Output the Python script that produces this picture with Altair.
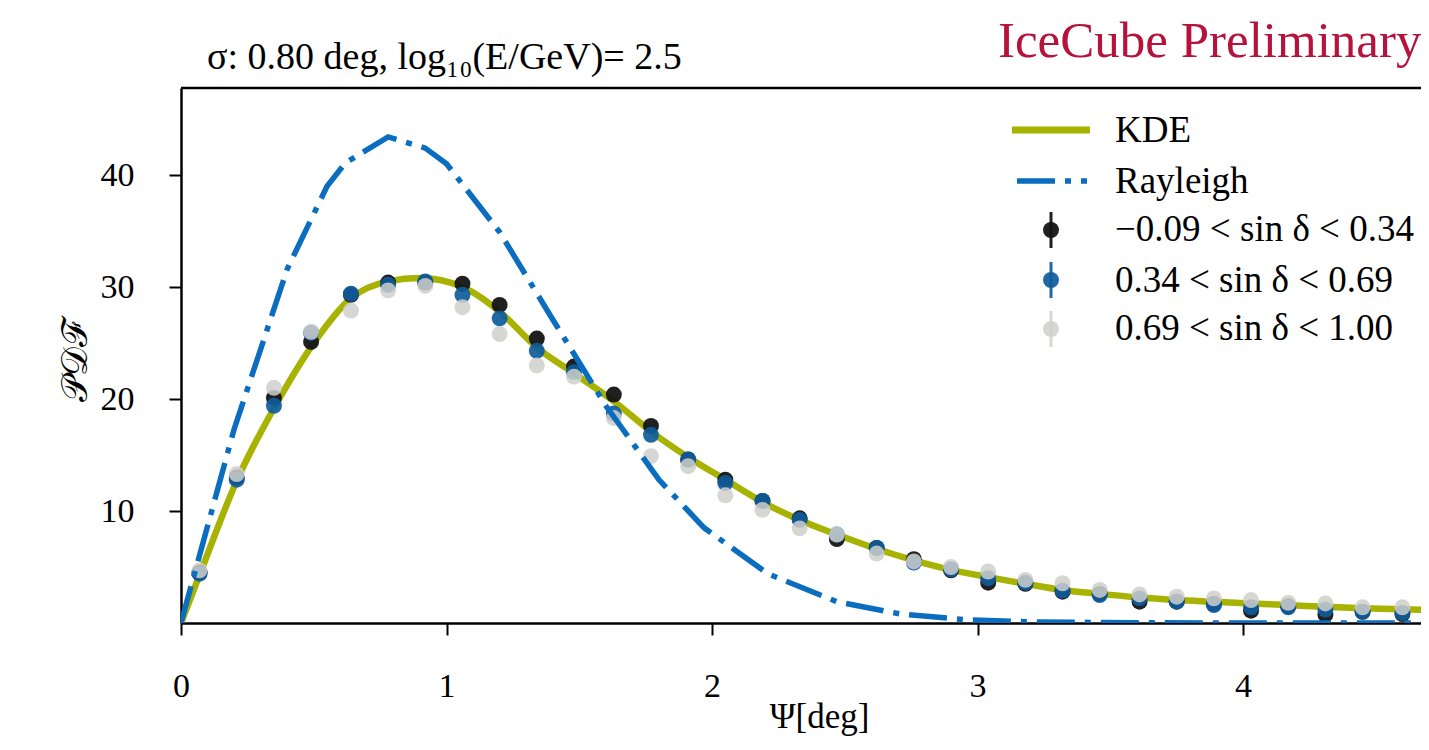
import altair as alt
import pandas as pd

# ---------------- data ----------------
bin_centers = [0.07, 0.21, 0.35, 0.49, 0.64, 0.78, 0.92, 1.06, 1.20, 1.34, 1.48,
               1.63, 1.77, 1.91, 2.05, 2.19, 2.33, 2.47, 2.62, 2.76, 2.90, 3.04,
               3.18, 3.32, 3.46, 3.61, 3.75, 3.89, 4.03, 4.17, 4.31, 4.45, 4.60]

pdf_low = [4.5, 13.0, 20.1, 25.1, 29.3, 30.4, 30.4, 30.3, 28.4, 25.4, 22.9,
           20.4, 17.6, 14.6, 12.8, 10.9, 9.35, 7.5, 6.7, 5.7, 4.7, 3.6,
           3.5, 2.8, 2.6, 1.9, 1.9, 1.7, 1.1, 1.5, 0.75, 1.0, 0.8]
pdf_mid = [4.4, 12.8, 19.4, 25.9, 29.4, 30.2, 30.5, 29.3, 27.2, 24.3, 22.4,
           18.7, 16.8, 14.6, 12.5, 10.9, 9.2, 7.9, 6.7, 5.4, 4.8, 4.0,
           3.6, 2.9, 2.5, 2.2, 1.9, 1.6, 1.4, 1.4, 1.2, 1.0, 0.9]
pdf_high = [4.7, 13.3, 21.0, 26.0, 27.9, 29.7, 30.1, 28.2, 25.8, 23.0, 22.0,
            18.3, 14.9, 14.0, 11.4, 10.1, 8.45, 7.9, 6.2, 5.5, 5.0, 4.6,
            3.85, 3.55, 2.95, 2.55, 2.35, 2.2, 2.05, 1.8, 1.75, 1.4, 1.4]

kde_x = [0.0, 0.07, 0.21, 0.36, 0.50, 0.64, 0.78, 0.90, 1.06, 1.20, 1.34, 1.48,
         1.63, 1.77, 1.91, 2.05, 2.19, 2.33, 2.47, 2.61, 2.76, 2.90, 3.04, 3.18,
         3.32, 3.46, 3.60, 3.75, 3.89, 4.03, 4.17, 4.31, 4.45, 4.60, 4.74]
kde_y = [0.0, 4.3, 12.7, 19.6, 25.0, 29.0, 30.5, 30.8, 30.0, 27.8, 24.6, 22.3,
         19.8, 17.1, 14.8, 12.8, 10.8, 9.2, 7.9, 6.7, 5.6, 4.75, 4.1, 3.5,
         2.95, 2.6, 2.3, 2.05, 1.9, 1.75, 1.6, 1.45, 1.32, 1.22, 1.15]

ray_x = [0.0, 0.20, 0.40, 0.55, 0.62, 0.78, 0.92, 1.00, 1.20, 1.40, 1.60, 1.80,
         1.97, 2.21, 2.47, 2.71, 2.95, 3.20, 3.60, 4.00, 4.74]
ray_y = [0.0, 17.3, 31.6, 39.0, 41.1, 43.4, 42.4, 41.0, 34.9, 27.1, 19.4, 12.8,
         8.5, 4.4, 1.9, 0.8, 0.3, 0.1, 0.02, 0.0, 0.0]

series_labels = ["\u22120.09 < sin \u03b4 < 0.34", "0.34 < sin \u03b4 < 0.69",
                 "0.69 < sin \u03b4 < 1.00"]
x_ticks = [0, 1, 2, 3, 4]
y_ticks = [10, 20, 30, 40]

# ---------------- styling ----------------
FONT = "Liberation Serif"
W, H = 1240, 535
XMAX = 4.670
YMAX = 47.77
KDE_COL = "#a8b200"
RAY_COL = "#0a6dbf"
PT_COLS = ["#141414", "#0f5c9c", "#cfcfcb"]
PT_OPA = [0.95, 0.92, 0.85]
PT_SIZE = 255

xs = alt.Scale(domain=[0, XMAX], nice=False, zero=False)
ys = alt.Scale(domain=[0, YMAX], nice=False, zero=False)

x_axis = alt.Axis(values=x_ticks, format="d", tickSize=12, tickWidth=2,
                  domainWidth=2.5, domainColor="black", tickColor="black",
                  labelFont=FONT, labelFontSize=34, labelColor="black",
                  labelPadding=34, grid=False, labelFlush=False,
                  title="\u03a8[deg]", titleFont=FONT, titleFontSize=35,
                  titleFontWeight="normal", titleColor="black",
                  titleX=638, titleY=104, titleAlign="center",
                  titleBaseline="alphabetic")
y_axis = alt.Axis(values=y_ticks, tickSize=12, tickWidth=2,
                  domainWidth=2.5, domainColor="black", tickColor="black",
                  labelFont=FONT, labelFontSize=34, labelColor="black",
                  labelPadding=35, grid=False,
                  title="\U0001D4AB\U0001D49F\u2131", titleFont=FONT,
                  titleFontSize=36, titleFontWeight="normal", titleColor="black",
                  titleX=-106, titleY=272, titleAngle=270,
                  titleAlign="center", titleBaseline="middle")

kde_df = pd.DataFrame({"x": kde_x, "y": kde_y})
ray_df = pd.DataFrame({"x": ray_x, "y": ray_y})

kde = alt.Chart(kde_df).mark_line(
    color=KDE_COL, strokeWidth=6.5, interpolate="monotone", clip=True
).encode(x=alt.X("x:Q", scale=xs, axis=x_axis),
         y=alt.Y("y:Q", scale=ys, axis=y_axis))

point_layers = []
for vals, col, op in zip([pdf_low, pdf_mid, pdf_high], PT_COLS, PT_OPA):
    df = pd.DataFrame({"x": bin_centers, "y": vals})
    point_layers.append(
        alt.Chart(df).mark_circle(size=PT_SIZE, color=col, opacity=op, clip=True)
        .encode(x=alt.X("x:Q", scale=xs), y=alt.Y("y:Q", scale=ys))
    )

ray = alt.Chart(ray_df).mark_line(
    color=RAY_COL, strokeWidth=5.5, strokeDash=[38, 10, 6, 10],
    strokeCap="butt", clip=True
).encode(x=alt.X("x:Q", scale=xs), y=alt.Y("y:Q", scale=ys))

one = alt.Data(values=[{"a": 1}])

# top frame line
top_line = alt.Chart(one).mark_rule(color="black", strokeWidth=2.5).encode(
    x=alt.value(0), x2=alt.value(W), y=alt.value(0))

# ---------------- legend ----------------
leg = []
leg.append(alt.Chart(one).mark_rule(color=KDE_COL, strokeWidth=7).encode(
    x=alt.value(831), x2=alt.value(909), y=alt.value(42)))
leg.append(alt.Chart(one).mark_rule(color=RAY_COL, strokeWidth=5.5,
                                    strokeDash=[38, 10, 6, 10], strokeCap="butt").encode(
    x=alt.value(836), x2=alt.value(906), y=alt.value(93)))
for i, (yy, col, op) in enumerate(zip([142, 192, 241], PT_COLS, PT_OPA)):
    leg.append(alt.Chart(one).mark_rule(color=col, strokeWidth=3, opacity=op).encode(
        x=alt.value(870), y=alt.value(yy - 18), y2=alt.value(yy + 18)))
    leg.append(alt.Chart(one).mark_circle(size=PT_SIZE, color=col, opacity=op).encode(
        x=alt.value(870), y=alt.value(yy)))
legend_texts = ["KDE", "Rayleigh"] + series_labels
for txt, yy in zip(legend_texts, [43, 94, 142, 193, 241]):
    leg.append(alt.Chart(one).mark_text(
        text=txt, font=FONT, fontSize=37, align="left", baseline="middle",
        color="black").encode(x=alt.value(934), y=alt.value(yy)))

title_txt = alt.Chart(one).mark_text(
    text="\u03c3: 0.80 deg, log\u2081\u2080(E/GeV)= 2.5", font=FONT, fontSize=38,
    align="left", baseline="alphabetic", color="black"
).encode(x=alt.value(26), y=alt.value(-19))

icecube = alt.Chart(one).mark_text(
    text="IceCube Preliminary", font=FONT, fontSize=51, align="left",
    baseline="alphabetic", color="#b5123c"
).encode(x=alt.value(817), y=alt.value(-31))

chart = alt.layer(
    kde, *point_layers, ray, top_line, *leg, title_txt, icecube
).properties(
    width=W, height=H,
    autosize=alt.AutoSizeParams(type="none"),
    padding={"left": 173, "top": 80, "right": 0, "bottom": 116},
).configure_view(stroke=None).configure(background="white")

chart.save("out.html", embed_options={"renderer": "svg", "actions": False})
